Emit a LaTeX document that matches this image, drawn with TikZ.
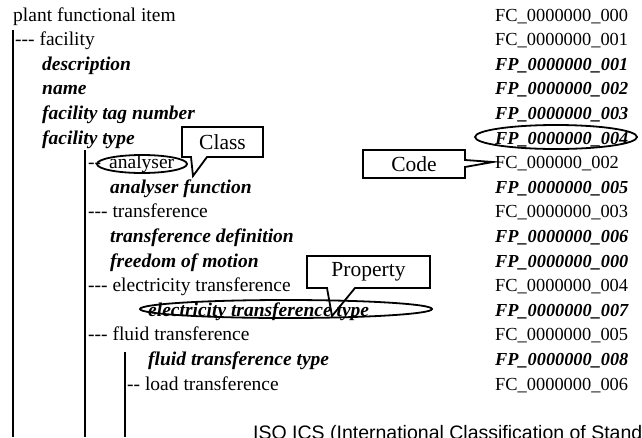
\documentclass[tikz,border=0pt]{standalone}
\usepackage{fontspec}
\setmainfont{Liberation Serif}
\newfontfamily\arialfont{Liberation Sans}
\usetikzlibrary{shapes.geometric}
\begin{document}
\begin{tikzpicture}[x=1pt,y=-1pt,
  txt/.style={anchor=base west, inner sep=0pt, font=\fontsize{19.5}{22}\selectfont},
  prop/.style={anchor=base west, inner sep=0pt, font=\fontsize{19.5}{22}\selectfont\bfseries\itshape},
  fc/.style={anchor=base west, inner sep=0pt, font=\fontsize{18.4}{22}\selectfont},
  fp/.style={anchor=base west, inner sep=0pt, font=\fontsize{18.3}{22}\selectfont\bfseries\itshape},
  tree/.style={line width=1.6pt},
  oval/.style={draw, ellipse, line width=1.8pt, inner sep=0pt},
  callline/.style={draw, line width=1.8pt, line join=miter},
  calltext/.style={inner sep=0pt, font=\fontsize{21.5}{24}\selectfont}
]
\useasboundingbox (0,0) rectangle (642,437);
\clip (0,0) rectangle (642,437);

% tree lines
\draw[tree] (13,30) -- (13,437);
\draw[tree] (85,150) -- (85,437);
\draw[tree] (125,352) -- (125,437);

% names
\node[txt]  (n0)  at (13,21)    {plant functional item};
\node[txt]  (n1)  at (15,45.6)  {-{}-{}- facility};
\node[prop] (n2)  at (42,70.2)  {description};
\node[prop] (n3)  at (42,94.8)  {name};
\node[prop] (n4)  at (42,119.4) {facility tag number};
\node[prop] (n5)  at (42,144)   {facility type};
\node[txt]  (n6a) at (88,168.6) {-{}-};
\node[txt]  (n6)  at (109,168.6){analyser};
\node[prop] (n7)  at (110,193.2){analyser function};
\node[txt]  (n8)  at (88,217.8) {-{}-{}- transference};
\node[prop] (n9)  at (110,242.4){transference definition};
\node[prop] (n10) at (110,267)  {freedom of motion};
\node[txt]  (n11) at (88,291.6) {-{}-{}- electricity transference};
\node[prop] (n12) at (148,316.2){electricity transference type};
\node[txt]  (n13) at (88,340.8) {-{}-{}- fluid transference};
\node[prop] (n14) at (148,365.4){fluid transference type};
\node[txt]  (n15) at (127,390)  {-{}- load transference};

% codes
\node[fc] (c0)  at (495,21)    {FC\_0000000\_000};
\node[fc] (c1)  at (495,45.6)  {FC\_0000000\_001};
\node[fp] (c2)  at (495,70.2)  {FP\_0000000\_001};
\node[fp] (c3)  at (495,94.8)  {FP\_0000000\_002};
\node[fp] (c4)  at (495,119.4) {FP\_0000000\_003};
\node[fp] (c5)  at (495,144)   {FP\_0000000\_004};
\node[fc] (c6)  at (495,168.6) {FC\_000000\_002};
\node[fp] (c7)  at (495,193.2) {FP\_0000000\_005};
\node[fc] (c8)  at (495,217.8) {FC\_0000000\_003};
\node[fp] (c9)  at (495,242.4) {FP\_0000000\_006};
\node[fp] (c10) at (495,267)   {FP\_0000000\_000};
\node[fc] (c11) at (495,291.6) {FC\_0000000\_004};
\node[fp] (c12) at (495,316.2) {FP\_0000000\_007};
\node[fc] (c13) at (495,340.8) {FC\_0000000\_005};
\node[fp] (c14) at (495,365.4) {FP\_0000000\_008};
\node[fc] (c15) at (495,390)   {FC\_0000000\_006};

% ovals
\node[oval, minimum width=90, minimum height=18] (ovA) at (142,164) {};
\node[oval, minimum width=162, minimum height=24] (ovB) at (556,137) {};
\node[oval, minimum width=292, minimum height=18] (ovC) at (286,309) {};

% callouts
\draw[callline] (182,127) -- (263,127) -- (263,157) -- (207,157) -- (193,176) -- (191,157) -- (182,157) -- cycle;
\node[calltext] (cls) at (222.5,142) {Class};
\draw[callline] (363,150) -- (465,150) -- (465,160) -- (493,162) -- (465,167) -- (465,178) -- (363,178) -- cycle;
\node[calltext] (cod) at (414,164) {Code};
\draw[callline] (307,256) -- (430,256) -- (430,288) -- (355,288) -- (332,316) -- (327,288) -- (307,288) -- cycle;
\node[calltext] (prp) at (368.5,272) {Property};

% bottom caption (cut off by the frame)
\node[anchor=base west, inner sep=0pt, font=\arialfont\fontsize{19.5}{22}\selectfont] (iso) at (253,439) {ISO ICS (International Classification of Stand};
\end{tikzpicture}
\end{document}
